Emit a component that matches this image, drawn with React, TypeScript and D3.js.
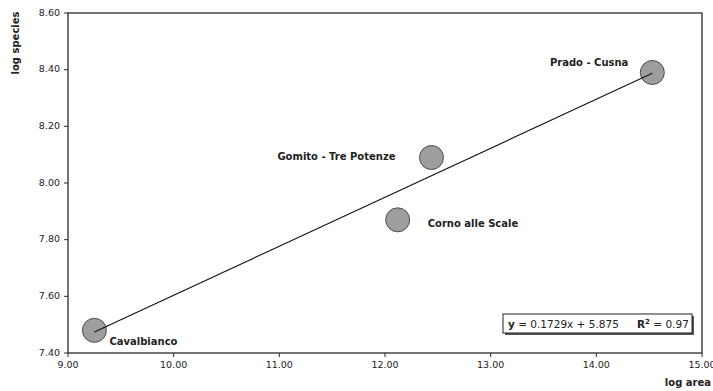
import * as d3 from "d3";
import { useEffect, useRef } from "react";

const sites = ["Cavalbianco", "Corno alle Scale", "Gomito - Tre Potenze", "Prado - Cusna"];
const logArea = [9.25, 12.12, 12.44, 14.53];
const logSpecies = [7.48, 7.87, 8.09, 8.39];

const xTicks = [9, 10, 11, 12, 13, 14, 15];
const yTicks = [7.4, 7.6, 7.8, 8.0, 8.2, 8.4, 8.6];

// linear trend from the chart
const slope = 0.1729;
const intercept = 5.875;
const rSquared = 0.97;

// label placement relative to each point (px)
const labelOffsets = [
  { dx: 15, dy: 15, anchor: "start" },
  { dx: 30, dy: 7, anchor: "start" },
  { dx: -36, dy: 2, anchor: "end" },
  { dx: -24, dy: -7, anchor: "end" },
];

export default function App() {
  const svgRef = useRef<SVGSVGElement>(null);
  const width = 713;
  const height = 391;

  useEffect(() => {
    const svg = d3.select(svgRef.current);
    svg.selectAll("*").remove();

    const left = 68, right = 702, top = 13, bottom = 353;
    const x = d3.scaleLinear().domain([9, 15]).range([left, right]);
    const y = d3.scaleLinear().domain([7.4, 8.6]).range([bottom, top]);
    const font = "'DejaVu Sans', Tahoma, sans-serif";

    // plot frame
    svg.append("rect")
      .attr("x", left).attr("y", top)
      .attr("width", right - left).attr("height", bottom - top)
      .attr("fill", "none").attr("stroke", "#2a2a2a").attr("stroke-width", 1.3);

    // y ticks
    yTicks.forEach((t) => {
      svg.append("line")
        .attr("x1", left - 4).attr("x2", left)
        .attr("y1", y(t)).attr("y2", y(t))
        .attr("stroke", "#2a2a2a");
      svg.append("text")
        .attr("x", left - 8).attr("y", y(t))
        .attr("text-anchor", "end").attr("dominant-baseline", "middle")
        .attr("font-family", font).attr("font-size", 9.5).attr("fill", "#222")
        .text(t.toFixed(2));
    });

    // x ticks
    xTicks.forEach((t) => {
      svg.append("line")
        .attr("x1", x(t)).attr("x2", x(t))
        .attr("y1", bottom).attr("y2", bottom + 4)
        .attr("stroke", "#2a2a2a");
      svg.append("text")
        .attr("x", x(t)).attr("y", bottom + 15)
        .attr("text-anchor", "middle")
        .attr("font-family", font).attr("font-size", 9.5).attr("fill", "#222")
        .text(t.toFixed(2));
    });

    // axis titles
    svg.append("text")
      .attr("transform", `translate(19,${43}) rotate(-90)`)
      .attr("text-anchor", "middle")
      .attr("font-family", font).attr("font-size", 10).attr("font-weight", "bold")
      .attr("fill", "#222")
      .text("log species");
    svg.append("text")
      .attr("x", 711).attr("y", 386)
      .attr("text-anchor", "end")
      .attr("font-family", font).attr("font-size", 10).attr("font-weight", "bold")
      .attr("fill", "#222")
      .text("log area");

    // points
    sites.forEach((_, i) => {
      svg.append("circle")
        .attr("cx", x(logArea[i])).attr("cy", y(logSpecies[i]))
        .attr("r", 12)
        .attr("fill", "#9e9e9e")
        .attr("stroke", "#4a4a4a").attr("stroke-width", 1);
    });

    // trend line over the data range
    const xMin = d3.min(logArea) as number;
    const xMax = d3.max(logArea) as number;
    const line = d3.line<number>()
      .x((d) => x(d))
      .y((d) => y(slope * d + intercept));
    svg.append("path")
      .attr("d", line([xMin, xMax]))
      .attr("fill", "none").attr("stroke", "#111").attr("stroke-width", 1.1);

    // point labels
    sites.forEach((name, i) => {
      const o = labelOffsets[i];
      svg.append("text")
        .attr("x", x(logArea[i]) + o.dx).attr("y", y(logSpecies[i]) + o.dy)
        .attr("text-anchor", o.anchor)
        .attr("font-family", font).attr("font-size", 10).attr("font-weight", "bold")
        .attr("fill", "#222")
        .text(name);
    });

    // equation box
    const bx = 503, by = 314, bw = 189, bh = 19;
    svg.append("rect")
      .attr("x", bx + 2).attr("y", by + 2).attr("width", bw).attr("height", bh)
      .attr("fill", "#555");
    svg.append("rect")
      .attr("x", bx).attr("y", by).attr("width", bw).attr("height", bh)
      .attr("fill", "#fff").attr("stroke", "#222").attr("stroke-width", 1);
    const eq = svg.append("text")
      .attr("x", bx + 5).attr("y", by + 14)
      .attr("font-family", font).attr("font-size", 10.5).attr("fill", "#222");
    eq.append("tspan").attr("font-weight", "bold").text("y");
    eq.append("tspan").text(` = ${slope}x + ${intercept}`);
    const r2 = svg.append("text")
      .attr("x", bx + 134).attr("y", by + 14)
      .attr("font-family", font).attr("font-size", 10.5).attr("fill", "#222");
    r2.append("tspan").attr("font-weight", "bold").text("R");
    r2.append("tspan").attr("font-weight", "bold").attr("font-size", 7).attr("dy", -4).text("2");
    r2.append("tspan").attr("dy", 4).text(` = ${rSquared.toFixed(2)}`);
  }, []);

  return (
    <svg
      ref={svgRef}
      width={width}
      height={height}
      viewBox={`0 0 ${width} ${height}`}
      style={{ position: "fixed", left: 0, top: 0, display: "block", background: "#fff" }}
    />
  );
}
